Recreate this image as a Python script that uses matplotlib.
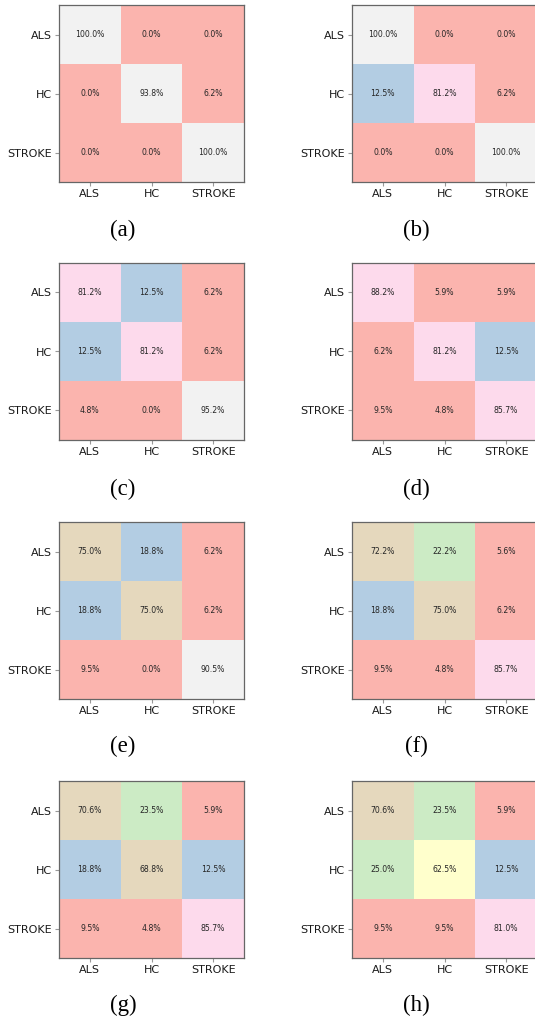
import numpy as np
import matplotlib
matplotlib.use("Agg")
import matplotlib.pyplot as plt

classes = ["ALS", "HC", "STROKE"]
captions = ["(a)", "(b)", "(c)", "(d)", "(e)", "(f)", "(g)", "(h)"]

# row-normalised confusion matrices in percent (rows = true, cols = predicted)
cm_a = [[100.0, 0.0, 0.0], [0.0, 93.8, 6.2], [0.0, 0.0, 100.0]]
cm_b = [[100.0, 0.0, 0.0], [12.5, 81.2, 6.2], [0.0, 0.0, 100.0]]
cm_c = [[81.2, 12.5, 6.2], [12.5, 81.2, 6.2], [4.8, 0.0, 95.2]]
cm_d = [[88.2, 5.9, 5.9], [6.2, 81.2, 12.5], [9.5, 4.8, 85.7]]
cm_e = [[75.0, 18.8, 6.2], [18.8, 75.0, 6.2], [9.5, 0.0, 90.5]]
cm_f = [[72.2, 22.2, 5.6], [18.8, 75.0, 6.2], [9.5, 4.8, 85.7]]
cm_g = [[70.6, 23.5, 5.9], [18.8, 68.8, 12.5], [9.5, 4.8, 85.7]]
cm_h = [[70.6, 23.5, 5.9], [25.0, 62.5, 12.5], [9.5, 9.5, 81.0]]
matrices = [cm_a, cm_b, cm_c, cm_d, cm_e, cm_f, cm_g, cm_h]

W, H = 535, 1022
fig = plt.figure(figsize=(W / 100, H / 100), dpi=100)

col_x = [59, 352]
row_top = [5, 263, 522, 781]
cap_y = [230, 489, 746, 1005]
aw, ah = 185, 177

for i, cm in enumerate(matrices):
    r, c = divmod(i, 2)
    x0 = col_x[c]
    y0 = row_top[r]
    ax = fig.add_axes([x0 / W, 1 - (y0 + ah) / H, aw / W, ah / H])
    data = np.array(cm) / 100.0
    # vmax a hair under 1 so 22.2% (=2/9) lands in the green bin like the original
    ax.imshow(data, cmap="Pastel1", vmin=0, vmax=0.999, aspect="auto",
              interpolation="nearest")
    for yi in range(3):
        for xi in range(3):
            ax.text(xi, yi, f"{cm[yi][xi]:.1f}%", ha="center", va="center",
                    fontsize=5.6, color="#262626")
    ax.set_xticks(range(3))
    ax.set_yticks(range(3))
    ax.set_xticklabels(classes, fontsize=8, color="#1a1a1a")
    ax.set_yticklabels(classes, fontsize=8, color="#1a1a1a")
    ax.tick_params(length=3, width=0.8, color="#999999", pad=2)
    for s in ax.spines.values():
        s.set_color("#666666")
        s.set_linewidth(0.9)
    fig.text((x0 + 64) / W, 1 - cap_y[r] / H, captions[i],
             ha="center", va="center", fontsize=16.5,
             family=["Liberation Serif", "DejaVu Serif"])

fig.savefig("out.png", dpi=100)
